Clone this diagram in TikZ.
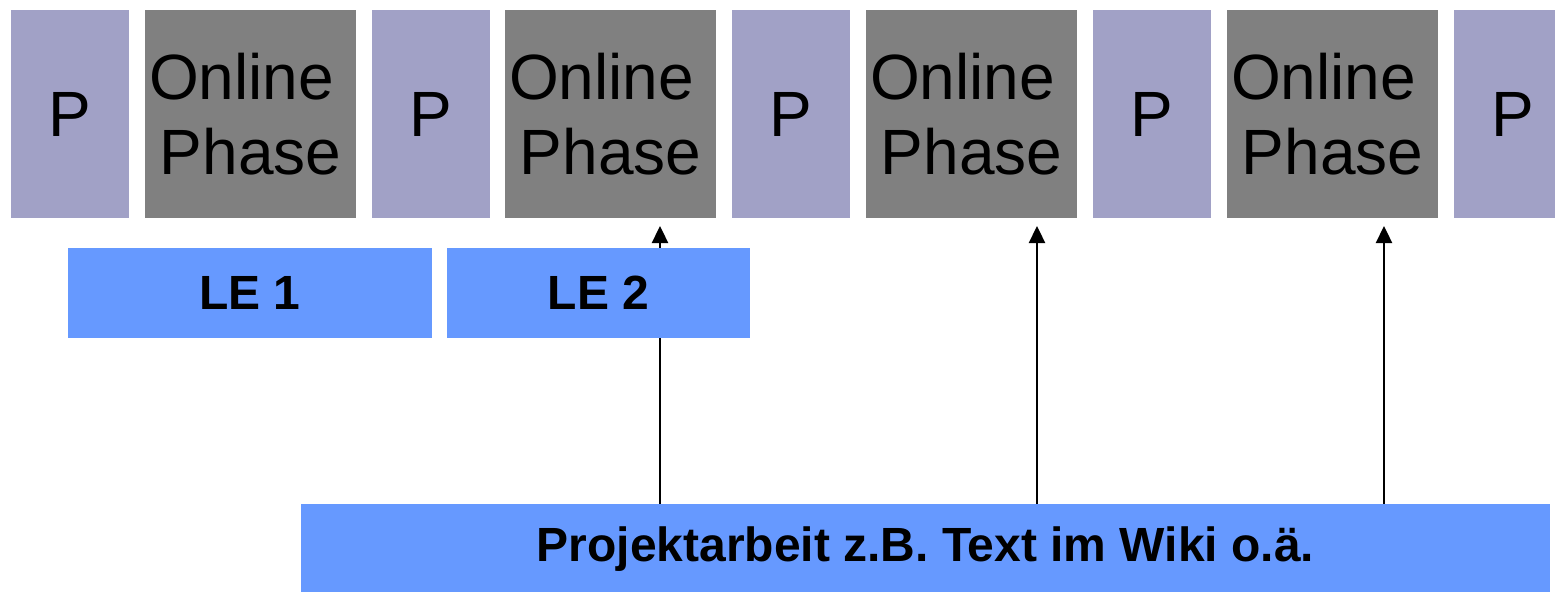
\documentclass[tikz,border=0pt]{standalone}
\usepackage{fontspec}
\setmainfont{Liberation Sans}
\usetikzlibrary{arrows.meta}
\definecolor{pcol}{RGB}{161,161,198}
\definecolor{ocol}{RGB}{128,128,128}
\definecolor{lcol}{RGB}{102,153,255}
\tikzset{
  pbox/.style={fill=pcol, draw=none, inner sep=0pt, minimum width=59pt, minimum height=104pt,
    font=\fontsize{32}{37.5}\selectfont},
  obox/.style={fill=ocol, draw=none, inner sep=0pt, minimum width=105.5pt, minimum height=104pt,
    align=center, font=\fontsize{32}{37.5}\selectfont},
  lbox/.style={fill=lcol, draw=none, inner sep=0pt, minimum height=45pt,
    font=\fontsize{24}{28}\selectfont\bfseries},
  arr/.style={line width=1.2pt, -{Triangle[length=8.5pt,width=8pt]}}
}
\begin{document}
\begin{tikzpicture}[x=0.5pt,y=-0.5pt]
\useasboundingbox (0,0) rectangle (1555,591);
\node[pbox] (p1) at (70,114) {P};
\node[obox] (o1) at (250.5,114) {Online\hspace*{0.278em}\\Phase};
\node[pbox] (p2) at (431,114) {P};
\node[obox] (o2) at (610.5,114) {Online\hspace*{0.278em}\\Phase};
\node[pbox] (p3) at (791,114) {P};
\node[obox] (o3) at (971.5,114) {Online\hspace*{0.278em}\\Phase};
\node[pbox] (p4) at (1152,114) {P};
\node[obox] (o4) at (1332.5,114) {Online\hspace*{0.278em}\\Phase};
\node[pbox] (p5) at (1513,114) {P};
\node[lbox, minimum width=624.5pt, minimum height=45pt] (proj) at (925.5,549) {Projektarbeit z.B. Text im Wiki o.ä.};
\coordinate (t1) at (660,226);
\coordinate (t2) at (1037,226);
\coordinate (t3) at (1384,226);
\draw[arr] (proj.north -| t1) -- (t1);
\draw[arr] (proj.north -| t2) -- (t2);
\draw[arr] (proj.north -| t3) -- (t3);
\node[lbox, minimum width=182pt] (le1) at (250,293) {LE 1};
\node[lbox, minimum width=151.5pt] (le2) at (598.5,293) {LE 2};
\end{tikzpicture}
\end{document}
